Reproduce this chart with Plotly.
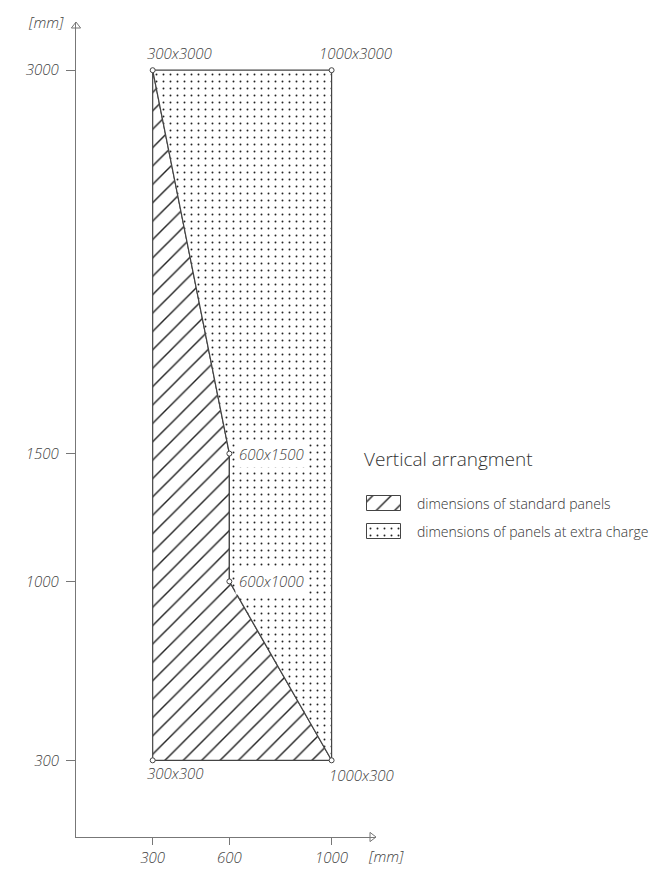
import plotly.graph_objects as go

W, H = 662, 870

# ---- data ----
x_tick_vals = [300, 600, 1000]
x_tick_text = ["300", "600", "1000"]
y_tick_vals = [300, 1000, 1500, 3000]
y_tick_text = ["300", "1000", "1500", "3000"]

standard_x = [300, 300, 600, 600, 1000, 300]
standard_y = [300, 3000, 1500, 1000, 300, 300]
extra_x = [300, 1000, 1000, 600, 600, 300]
extra_y = [3000, 3000, 300, 1000, 1500, 3000]

corner_x = [300, 1000, 600, 600, 300, 1000]
corner_y = [3000, 3000, 1500, 1000, 300, 300]
corner_labels = ["300x3000", "1000x3000", "600x1500", "600x1000", "300x300", "1000x300"]

legend_title = "Vertical arrangment"
legend_labels = ["dimensions of standard panels", "dimensions of panels at extra charge"]
axis_unit = "[mm]"

# ---- layout geometry (screenshot pixels) ----
SCALE = 0.2556          # px per mm
PL, PR, PT, PB = 76, 376, 22, 837
XMAX = (PR - PL) / SCALE
YMAX = (PB - PT) / SCALE


def fx(p):  # pixel x -> paper fraction
    return p / W


def fy(p):  # pixel y -> paper fraction
    return 1 - p / H


LINE = "#444444"
AXIS = "#777777"
TXT = "#444444"
label_font = dict(family="Open Sans", size=15, color=TXT, style="italic", weight=300)
hatch = dict(shape="/", size=13, solidity=0.11, fgcolor="#222222", fgopacity=1, bgcolor="white")
dots = dict(shape=".", size=7, solidity=0.06, fgcolor="#222222", fgopacity=1, bgcolor="white")

fig = go.Figure()

# standard panels (hatched)
fig.add_trace(go.Scatter(
    x=standard_x, y=standard_y, mode="lines", fill="toself", fillcolor="white",
    fillpattern=hatch, line=dict(color=LINE, width=1.2), hoverinfo="skip", showlegend=False,
))
# panels at extra charge (dotted)
fig.add_trace(go.Scatter(
    x=extra_x, y=extra_y, mode="lines", fill="toself", fillcolor="white",
    fillpattern=dots, line=dict(color=LINE, width=1.2), hoverinfo="skip", showlegend=False,
))
# vertex markers
fig.add_trace(go.Scatter(
    x=corner_x, y=corner_y, mode="markers",
    marker=dict(symbol="circle", size=5, color="white", line=dict(color=LINE, width=1)),
    cliponaxis=False, hoverinfo="skip", showlegend=False,
))
# axis arrowheads
fig.add_trace(go.Scatter(
    x=[XMAX - 4 / SCALE], y=[0], mode="markers",
    marker=dict(symbol="triangle-right-open", size=8, color=AXIS, line=dict(width=1)),
    cliponaxis=False, hoverinfo="skip", showlegend=False,
))
fig.add_trace(go.Scatter(
    x=[0], y=[YMAX - 4 / SCALE], mode="markers",
    marker=dict(symbol="triangle-up-open", size=8, color=AXIS, line=dict(width=1)),
    cliponaxis=False, hoverinfo="skip", showlegend=False,
))

# legend swatches on a helper axis (pixel units)
box_x = [366.5, 400.5, 400.5, 366.5, 366.5]
fig.add_trace(go.Scatter(
    x=box_x, y=[495.5, 495.5, 510.5, 510.5, 495.5], xaxis="x2", yaxis="y2",
    mode="lines", fill="toself", fillcolor="white", fillpattern=hatch,
    line=dict(color=LINE, width=1), hoverinfo="skip", showlegend=False,
))
fig.add_trace(go.Scatter(
    x=box_x, y=[523.5, 523.5, 538.5, 538.5, 523.5], xaxis="x2", yaxis="y2",
    mode="lines", fill="toself", fillcolor="white", fillpattern=dots,
    line=dict(color=LINE, width=1), hoverinfo="skip", showlegend=False,
))

# corner labels
label_style = [
    dict(xanchor="left", xshift=-8, yshift=17),
    dict(xanchor="left", xshift=-15, yshift=17),
    dict(xanchor="left", xshift=6, yshift=0, bgcolor="white", borderpad=3),
    dict(xanchor="left", xshift=6, yshift=0, bgcolor="white", borderpad=3),
    dict(xanchor="left", xshift=-8, yshift=-13),
    dict(xanchor="left", xshift=-5, yshift=-15),
]
for cx, cy, txt, st in zip(corner_x, corner_y, corner_labels, label_style):
    fig.add_annotation(x=cx, y=cy, xref="x", yref="y", text=txt, showarrow=False,
                       yanchor="middle", font=label_font, **st)

# unit labels
fig.add_annotation(x=fx(386), y=fy(856), xref="paper", yref="paper", text=axis_unit,
                   showarrow=False, xanchor="center", yanchor="middle", font=label_font)
fig.add_annotation(x=fx(46), y=fy(22), xref="paper", yref="paper", text=axis_unit,
                   showarrow=False, xanchor="center", yanchor="middle", font=label_font)

# legend texts
fig.add_annotation(x=fx(362), y=fy(459), xref="paper", yref="paper", text=legend_title,
                   showarrow=False, xanchor="left", yanchor="middle",
                   font=dict(family="Open Sans", size=19, color="#333333", weight=300))
for yy, t in zip([503, 531], legend_labels):
    fig.add_annotation(x=fx(415), y=fy(yy), xref="paper", yref="paper", text=t,
                       showarrow=False, xanchor="left", yanchor="middle",
                       font=dict(family="Open Sans", size=14, color="#333333", weight=300))

fig.update_layout(
    width=W, height=H, autosize=False,
    margin=dict(l=0, r=0, t=0, b=0),
    paper_bgcolor="white", plot_bgcolor="white",
    showlegend=False,
    xaxis=dict(domain=[fx(PL), fx(PR)], range=[0, XMAX], tickvals=x_tick_vals, ticktext=x_tick_text,
               ticks="outside", ticklen=7, tickcolor=AXIS, tickwidth=1,
               showline=True, linecolor=AXIS, linewidth=1.2, showgrid=False, zeroline=False,
               tickfont=label_font, fixedrange=True),
    yaxis=dict(domain=[fy(PB), fy(PT)], range=[0, YMAX], tickvals=y_tick_vals, ticktext=y_tick_text,
               ticks="outside", ticklen=9, tickcolor=AXIS, tickwidth=1, ticklabelstandoff=4,
               showline=True, linecolor=AXIS, linewidth=1.2, showgrid=False, zeroline=False,
               tickfont=label_font, fixedrange=True),
    xaxis2=dict(domain=[fx(360), fx(420)], range=[360, 420], visible=False, anchor="y2", fixedrange=True),
    yaxis2=dict(domain=[fy(545), fy(490)], range=[545, 490], visible=False, anchor="x2", fixedrange=True),
)

fig.write_html(
    "out.html",
    config={"displayModeBar": False},
    post_script="document.documentElement.style.overflow='hidden';"
                "document.body.style.margin='0';document.body.style.overflow='hidden';",
)
